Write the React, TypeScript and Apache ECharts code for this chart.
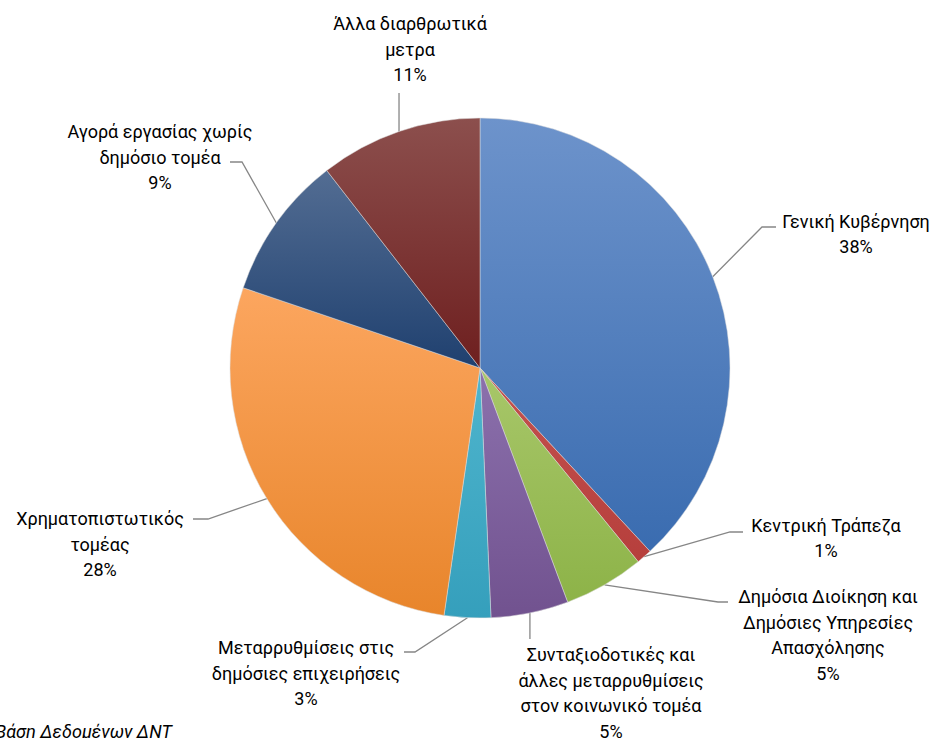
import React, { useEffect, useRef } from "react";
import * as echarts from "echarts";

const categories = [
  "Γενική Κυβέρνηση",
  "Κεντρική Τράπεζα",
  "Δημόσια Διοίκηση και\nΔημόσιες Υπηρεσίες\nΑπασχόλησης",
  "Συνταξιοδοτικές και\nάλλες μεταρρυθμίσεις\nστον κοινωνικό τομέα",
  "Μεταρρυθμίσεις στις\nδημόσιες επιχειρήσεις",
  "Χρηματοπιστωτικός\nτομέας",
  "Αγορά εργασίας χωρίς\nδημόσιο τομέα",
  "Άλλα διαρθρωτικά\nμετρα",
];
const values = [38.1, 1.0, 5.2, 5.0, 3.0, 27.9, 9.3, 10.5];

// gradient colours (top, bottom) for each slice
const colorTop = ["#6d93cb", "#c4524f", "#a8c76a", "#8c71ad", "#4fb5cd", "#fca65f", "#536d93", "#8c4f4d"];
const colorBottom = ["#3a6cb0", "#b63f3c", "#8db348", "#71528f", "#359fbc", "#e8852b", "#1f406f", "#6e1f1f"];

// label layout: centre of label block, leader line bend & end points
const labelPos = [
  [856, 234],
  [826, 538],
  [828, 635],
  [611, 693],
  [306, 673],
  [100, 544],
  [160, 157],
  [410, 49],
];
const lineBend: (number[] | null)[] = [
  [762, 227],
  [730, 532],
  [718, 602],
  null,
  [415, 652],
  [208, 519],
  [242, 162],
  null,
];
const lineEnd = [
  [776, 227],
  [743, 532],
  [728, 602],
  [0, 639],
  [404, 652],
  [193, 519],
  [230, 162],
  [0, 93],
];

export default function App() {
  const ref = useRef<HTMLDivElement>(null);
  useEffect(() => {
    if (!ref.current) return;
    const chart = echarts.init(ref.current, undefined, { renderer: "svg" });
    const font = "Roboto";
    chart.setOption({
      animation: false,
      backgroundColor: "#ffffff",
      graphic: [
        {
          type: "text",
          x: 172,
          y: 731,
          style: {
            text: "Πηγή: Βάση Δεδομένων ΔΝΤ",
            align: "right",
            verticalAlign: "middle",
            font: `italic 18px ${font}`,
            fill: "#000",
          },
        },
      ],
      series: [
        {
          type: "pie",
          center: [480, 368],
          radius: 250,
          startAngle: 90,
          clockwise: true,
          avoidLabelOverlap: false,
          percentPrecision: 0,
          data: categories.map((name, i) => ({
            name,
            value: values[i],
            itemStyle: {
              color: new echarts.graphic.LinearGradient(0, 0, 0, 1, [
                { offset: 0, color: colorTop[i] },
                { offset: 1, color: colorBottom[i] },
              ]),
            },
          })),
          itemStyle: {
            borderColor: "rgba(220,220,220,0.7)",
            borderWidth: 0.7,
          },
          label: {
            show: true,
            position: "outside",
            formatter: "{b}\n{d}%",
            fontFamily: font,
            fontSize: 18,
            lineHeight: 25.5,
            color: "#000",
            align: "center",
          },
          labelLine: {
            show: true,
            lineStyle: { color: "#868686", width: 1.3 },
          },
          labelLayout: (params: any) => {
            const i = params.dataIndex;
            const start = params.labelLinePoints ? params.labelLinePoints[0] : [0, 0];
            const pts: number[][] = [start];
            if (lineBend[i]) {
              pts.push(lineBend[i] as number[]);
              pts.push(lineEnd[i]);
            } else {
              pts.push([start[0], lineEnd[i][1]]);
            }
            return {
              x: labelPos[i][0],
              y: labelPos[i][1],
              align: "center",
              verticalAlign: "middle",
              labelLinePoints: pts,
            };
          },
        },
      ],
    });
    return () => chart.dispose();
  }, []);
  return (
    <div
      ref={ref}
      style={{ position: "fixed", left: 0, top: 0, width: 939, height: 738 }}
    />
  );
}
